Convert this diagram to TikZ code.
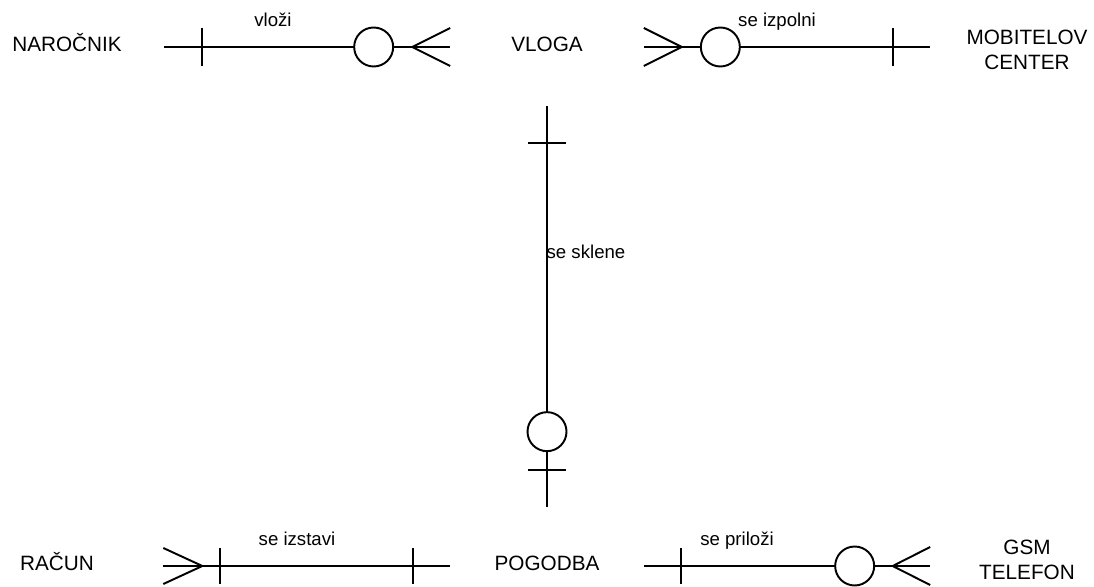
\documentclass[tikz,border=0pt]{standalone}
\usepackage{fontspec}
\setmainfont{Liberation Sans}
\usepackage{tikz}
\usetikzlibrary{positioning,calc}

\begin{document}
\begin{tikzpicture}[
x=0.02cm, y=-0.02cm,
entity/.style={minimum width=3.86cm, minimum height=2.36cm, inner sep=0pt,
  font=\fontsize{11.8}{14.2}\selectfont, text height=8.5pt, text depth=3pt},
entitytwo/.style={minimum width=3.86cm, inner sep=0pt, align=center,
  font=\fontsize{11.8}{14.2}\selectfont},
rel/.style={line width=1.1pt},
ring/.style={circle, draw, fill=white, line width=1.1pt, minimum size=0.78cm, inner sep=0pt},
lbl/.style={anchor=base, inner sep=0pt, font=\fontsize{10.6}{12}\selectfont}]
    \useasboundingbox (0,0) rectangle (1094,587);

    % Entities
    \node[entity] (narocnik) at (67,47) {NAROČNIK};
    \node[entity] (vloga) at (547,47) {VLOGA};
    \node[entitytwo] (mobitel) at (1027,50) {MOBITELOV\\CENTER};
    \node[entity, minimum width=4.24cm] (racun) at (57,566) {RAČUN};
    \node[entity] (pogodba) at (547,566) {POGODBA};
    \node[entitytwo] (gsm) at (1027,560) {GSM\\TELEFON};

    % vlozi
    \draw[rel] (narocnik.east) -- (vloga.west);
    \draw[rel] ($(narocnik.east)+(38,-19)$) -- +(0,38);
    \draw[rel] ($(vloga.west)+(0,-19)$) -- ($(vloga.west)+(-38,0)$) -- ($(vloga.west)+(0,19)$);
    \node[ring] (ring1) at ($(vloga.west)+(-76.5,0)$) {};
    \node[lbl] (vlozi) at (273,27) {vloži};

    % se izpolni
    \draw[rel] (vloga.east) -- (vloga.east -| mobitel.west);
    \draw[rel] ($(vloga.east)+(0,-19)$) -- ($(vloga.east)+(38,0)$) -- ($(vloga.east)+(0,19)$);
    \node[ring] (ring2) at ($(vloga.east)+(76.5,0)$) {};
    \draw[rel] ($(vloga.east -| mobitel.west)+(-37.5,-19)$) -- +(0,38);
    \node[lbl] (izpolni) at (777,27) {se izpolni};

    % se sklene
    \draw[rel] (vloga.south) -- (pogodba.north);
    \draw[rel] ($(vloga.south)+(-19,37)$) -- +(38,0);
    \draw[rel] ($(pogodba.north)+(-19,-37)$) -- +(38,0);
    \node[ring] (ring3) at ($(pogodba.north)+(0,-75)$) {};
    \node[lbl] (sklene) at (586,258) {se sklene};

    % se izstavi
    \draw[rel] (racun.east) -- (pogodba.west);
    \draw[rel] ($(racun.east)+(0,-18)$) -- ($(racun.east)+(39,0)$) -- ($(racun.east)+(0,18)$);
    \draw[rel] ($(racun.east)+(57,-18)$) -- +(0,36);
    \draw[rel] ($(pogodba.west)+(-37.5,-18)$) -- +(0,36);
    \node[lbl] (izstavi) at (297,545) {se izstavi};

    % se prilozi
    \draw[rel] (pogodba.east) -- (pogodba.east -| gsm.west);
    \draw[rel] ($(pogodba.east)+(37.5,-18)$) -- +(0,36);
    \draw[rel] ($(pogodba.east -| gsm.west)+(0,-19)$) -- ($(pogodba.east -| gsm.west)+(-37.5,0)$) -- ($(pogodba.east -| gsm.west)+(0,19)$);
    \node[ring] (ring4) at ($(pogodba.east -| gsm.west)+(-75.5,0)$) {};
    \node[lbl] (prilozi) at (737,545) {se priloži};

\end{tikzpicture}
\end{document}
